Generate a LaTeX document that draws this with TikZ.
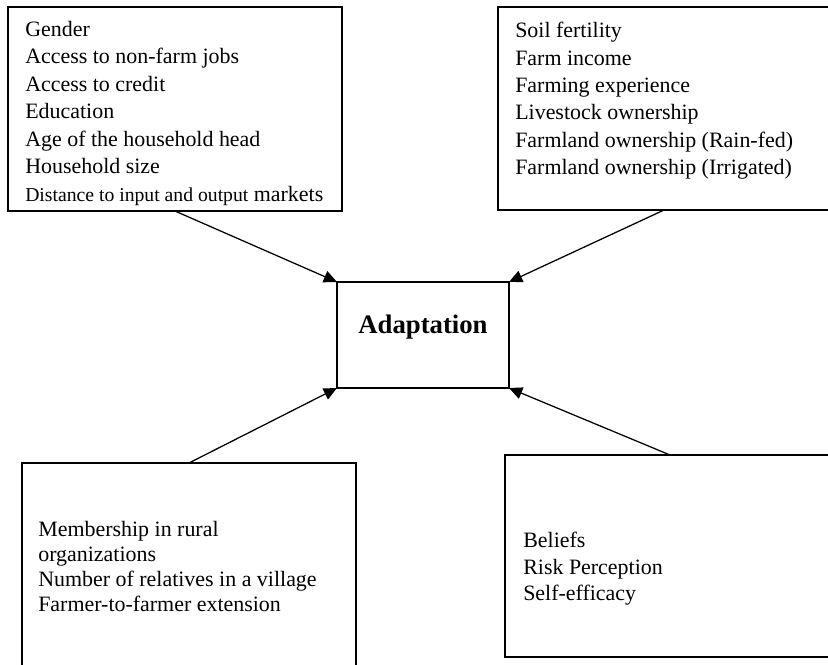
\documentclass[tikz,border=0pt]{standalone}
\usepackage{fontspec}
\setmainfont{Liberation Serif}
\usetikzlibrary{arrows.meta}

\tikzset{
  factorbox/.style={draw, line width=1.6pt, rectangle, inner sep=0pt, outer sep=0pt},
  factorlist/.style={anchor=north west, align=left, inner sep=0pt, font=\fontsize{15.6}{19.5}\selectfont},
  link/.style={line width=0.9pt, -{Triangle[length=3.3mm,width=3mm]}}
}

\begin{document}
\begin{tikzpicture}[x=0.025cm,y=-0.025cm]
\useasboundingbox (0,0) rectangle (828,664);
\clip (0,0) rectangle (828,664);

% Four factor boxes
\node[factorbox, minimum width=8.35cm, minimum height=5.1cm] (personal) at (175,109) {};
\node[factorbox, minimum width=8.3cm, minimum height=5.075cm] (farm) at (664,108.5) {};
\node[factorbox, minimum width=8.35cm, minimum height=5.425cm] (social) at (189,571.5) {};
\node[factorbox, minimum width=8.25cm, minimum height=5.05cm] (psych) at (670,556) {};

% Lists inside the boxes
\node[factorlist] (personal-list) at (25,21) {Gender\\Access to non-farm jobs\\Access to credit\\Education\\Age of the household head\\Household size\\{\fontsize{14}{19.5}\selectfont Distance to input and output} markets};
\node[factorlist] (farm-list) at (515,22) {Soil fertility\\Farm income\\Farming experience\\Livestock ownership\\Farmland ownership (Rain-fed)\\Farmland ownership (Irrigated)};
\node[factorlist, font=\fontsize{15.6}{17.8}\selectfont] (social-list) at (38,521) {Membership in rural\\organizations\\Number of relatives in a village\\Farmer-to-farmer extension};
\node[factorlist, font=\fontsize{15.6}{18.8}\selectfont] (psych-list) at (523,532) {Beliefs\\Risk Perception\\Self-efficacy};

% Centre box
\node[factorbox, minimum width=4.3cm, minimum height=2.65cm, text height=0.45cm, text depth=0.55cm, font=\bfseries\fontsize{19}{22}\selectfont] (adapt) at (423,335) {Adaptation};

% Arrows
\draw[link] (personal.south) -- (adapt.north west);
\draw[link] (farm.south) -- (adapt.north east);
\draw[link] (social.north) -- (adapt.south west);
\draw[link] (psych.north) -- (adapt.south east);
\end{tikzpicture}
\end{document}
